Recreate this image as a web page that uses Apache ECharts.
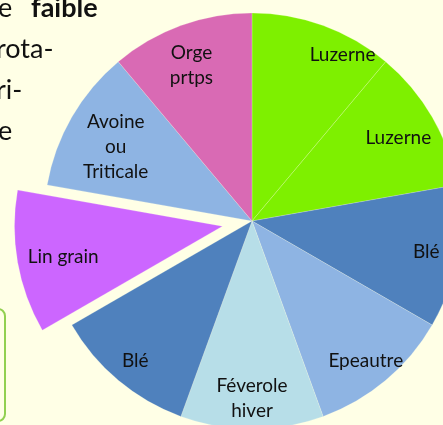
<!DOCTYPE html>
<html>
<head>
<meta charset="utf-8">
<script src="https://cdn.jsdelivr.net/npm/echarts@6/dist/echarts.min.js"></script>
<style>
  html, body { margin: 0; padding: 0; background: #FFFFE6; }
  #chart { width: 443px; height: 425px; }
</style>
</head>
<body>
<div id="chart"></div>
<script>
// Rotation des cultures : une parcelle par année, parts égales
const cultures = ['Luzerne', 'Luzerne', 'Blé', 'Epeautre', 'Féverole\nhiver', 'Blé', 'Lin grain', 'Avoine\nou\nTriticale', 'Orge\nprtps'];
const parts = [1, 1, 1, 1, 1, 1, 1, 1, 1];
const couleurs = ['#7EF000', '#7EF000', '#4F81BD', '#8EB4E3', '#B7DEE8', '#4F81BD', '#CC66FF', '#8EB4E3', '#D96AB4'];
const culturesDetachees = ['Lin grain'];

// small label nudges (dx, dy) for a few wedges
const labelShift = {
  0: { dx: 30, dy: 0 },
  1: { dx: -7, dy: 5 },
  3: { dx: 0, dy: 4 },
  5: { dx: -3, dy: 4 },
  6: { dx: 15, dy: 0 },
  7: { dx: 17, dy: 14 },
  8: { dx: 0, dy: 11 }
};

const FONT = 'Lato';
const centre = [252, 221];
const rayon = 208;
const decalage = 30;

const slices = cultures.map((c, i) => ({
  name: c,
  value: parts[i],
  selected: culturesDetachees.includes(c),
  itemStyle: { color: couleurs[i] }
}));

const chart = echarts.init(document.getElementById('chart'), null, { renderer: 'canvas' });
chart.setOption({
  backgroundColor: '#FFFFE6',
  animation: false,
  graphic: [
    { type: 'text', left: -2, top: -5, style: { text: 'e ', font: '27px ' + FONT, fill: '#111' } },
    { type: 'text', left: 31, top: -5, style: { text: 'faible', font: 'bold 27px ' + FONT, fill: '#111' } },
    { type: 'text', left: -4, top: 36, style: { text: 'rota-', font: '27px ' + FONT, fill: '#111' } },
    { type: 'text', left: -4, top: 77, style: { text: 'ri-', font: '27px ' + FONT, fill: '#111' } },
    { type: 'text', left: -2, top: 118, style: { text: 'e', font: '27px ' + FONT, fill: '#111' } },
    { type: 'rect', shape: { x: -120, y: 309, width: 125, height: 112, r: 7 },
      style: { fill: 'none', stroke: '#92D050', lineWidth: 2 } }
  ],
  series: [
    {
      type: 'pie',
      center: centre,
      radius: [0, rayon],
      startAngle: 90,
      clockwise: true,
      selectedMode: 'single',
      selectedOffset: decalage,
      silent: true,
      label: { show: false },
      labelLine: { show: false },
      itemStyle: { borderWidth: 0.6, borderColor: 'rgba(255,255,230,0.35)' },
      data: slices
    },
    {
      type: 'pie',
      center: centre,
      radius: [140, rayon],
      startAngle: 90,
      clockwise: true,
      selectedMode: 'single',
      selectedOffset: decalage,
      silent: true,
      itemStyle: { color: 'rgba(0,0,0,0)' },
      label: {
        show: true,
        position: 'inside',
        color: '#111',
        fontFamily: FONT,
        fontSize: 19,
        lineHeight: 25
      },
      labelLine: { show: false },
      labelLayout: p => labelShift[p.dataIndex] || {},
      data: slices.map(s => ({ name: s.name, value: s.value, selected: s.selected }))
    }
  ]
});
</script>
</body>
</html>
